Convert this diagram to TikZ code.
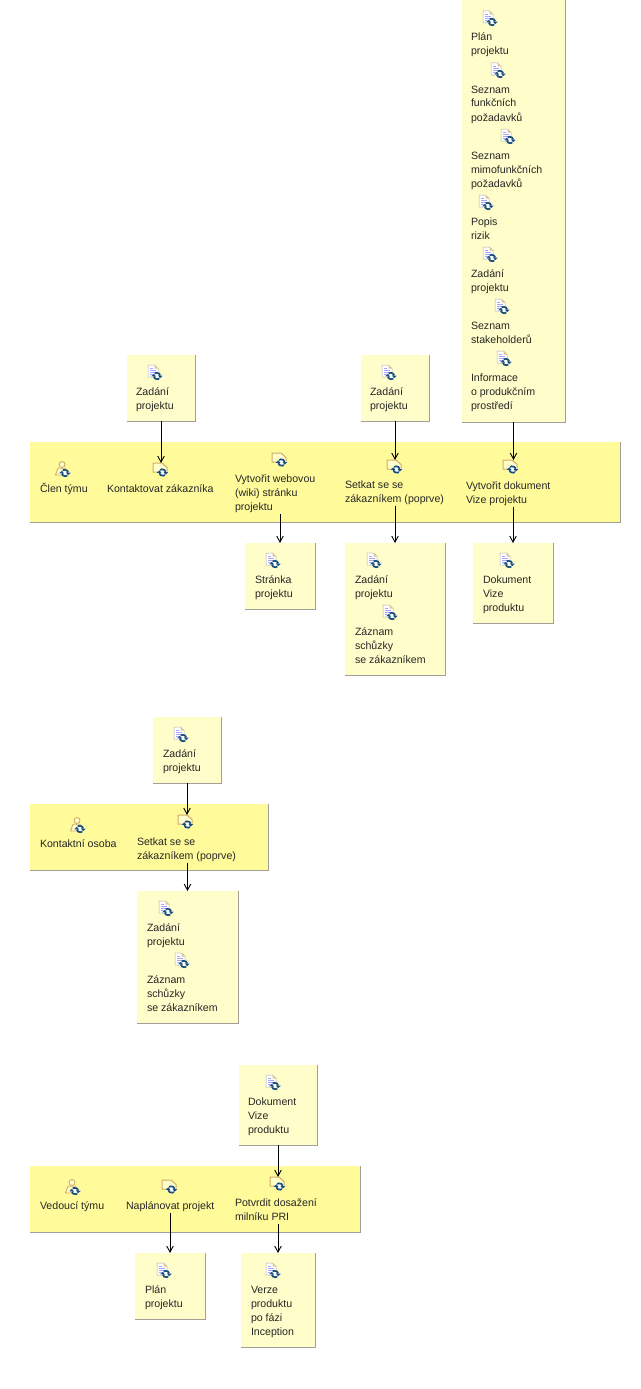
\documentclass[tikz,border=0pt]{standalone}
\usepackage{fontspec}
\setmainfont{Liberation Sans}
\usetikzlibrary{arrows.meta}
\definecolor{boxfill}{HTML}{FFFDCA}
\definecolor{bandfill}{HTML}{FFFB9B}
\definecolor{edgegrey}{HTML}{A0A098}
\definecolor{tan}{HTML}{D0AC68}
\definecolor{badge}{HTML}{1A4F7A}
\tikzset{
  x=1pt,y=-1pt,
  boxshape/.style={fill=boxfill,draw=none,inner sep=0pt,outer sep=0pt},
  bandshape/.style={fill=bandfill,draw=none,inner sep=0pt,outer sep=0pt},
  edgeline/.style={draw=edgegrey,line width=1pt},
  txt/.style={anchor=north west,inner sep=0pt,outer sep=0pt,align=left,font=\fontsize{10.6}{14}\selectfont,text=black!85},
  arr/.style={-{Straight Barb[length=6pt,width=6.5pt]},line width=0.9pt,black},
  iconspot/.style={inner sep=0pt,outer sep=0pt,minimum width=14pt,minimum height=14pt}
}
% name, x1, y1, x2, y2, style
\newcommand{\bx}[6]{%
  \path ({(#2+#4)/2},{(#3+#5)/2}) node[#6,minimum width={(#4-#2)*1pt},minimum height={(#5-#3)*1pt}] (#1) {};
  \draw[edgeline] (#1.north east) -- (#1.south east) -- (#1.south west);
}
\newcommand{\tx}[4]{\node[txt] (#1) at (#2,{#3-9.8}) {\strut #4\strut};}
\newcommand{\bdg}[2]{%
  \begin{scope}[shift={(#1,#2)}]
    \fill[white] (-6,0) -- (0,-4.5) -- (6,0) -- (0,4.5) -- cycle;
    \draw[badge,line width=1.7pt] (-3.2,0.6) arc[start angle=170,end angle=50,x radius=3.4,y radius=3.2];
    \draw[badge,line width=1.7pt] (3.2,-0.6) arc[start angle=-10,end angle=-130,x radius=3.4,y radius=3.2];
    \fill[badge] (-5.8,0.2) -- (-3,-2.2) -- (-1,0.6) -- cycle;
    \fill[badge] (5.8,-0.2) -- (3,2.2) -- (1,-0.6) -- cycle;
  \end{scope}}
\newcommand{\docicon}[3]{% name, centre x, centre y
  \node[iconspot] (#1) at (#2,#3) {};
  \begin{scope}[shift={(#2,#3)}]
    \fill[white,draw=gray!60,line width=0.5pt] (-6,-8) -- (0.5,-8) -- (4,-4.5) -- (4,4) -- (-6,4) -- cycle;
    \fill[tan!70] (0.5,-8) -- (0.5,-4.5) -- (4,-4.5) -- cycle;
    \draw[blue!35,line width=0.7pt] (-4,-5) -- (-1,-5) (-4,-3) -- (2,-3) (-4,-1) -- (2,-1) (-4,1) -- (0,1);
  \end{scope}
  \bdg{#2+3}{#3+3}}
\newcommand{\taskicon}[3]{%
  \node[iconspot] (#1) at (#2,#3) {};
  \begin{scope}[shift={(#2,#3)}]
    \fill[boxfill,draw=tan,line width=1pt] (-8,-7) -- (1,-7) -- (6,-2.5) -- (6,2) -- (-8,2) -- cycle;
  \end{scope}
  \bdg{#2+1.5}{#3+2.5}}
\newcommand{\roleicon}[3]{%
  \node[iconspot] (#1) at (#2,#3) {};
  \begin{scope}[shift={(#2,#3)}]
    \fill[boxfill,draw=tan,line width=0.9pt] (-1,-4.5) circle (3);
    \fill[boxfill,draw=tan,line width=0.9pt] (-7.5,6) -- (-5,-0.8) -- (2.5,-0.8) -- (4,6) -- cycle;
  \end{scope}
  \bdg{#2+2}{#3+4}}
\begin{document}
\begin{tikzpicture}
\useasboundingbox (0,0) rectangle (640,1389);
\fill[white] (0,0) rectangle (640,1389);

% bands
\bx{bandA}{30}{442}{620}{522}{bandshape}
\bx{bandB}{30}{804}{268}{870}{bandshape}
\bx{bandC}{30}{1166}{360}{1232}{bandshape}

% first group: inputs
\bx{bigIn}{462}{0}{565}{422}{boxshape}
\bx{inA}{127}{355}{195}{421}{boxshape}
\bx{inB}{361}{355}{429}{421}{boxshape}
\docicon{d1}{489}{19}
\tx{t1}{471}{41}{Plán\\projektu}
\docicon{d2}{497}{71}
\tx{t2}{471}{93}{Seznam\\funkčních\\požadavků}
\docicon{d3}{507}{137}
\tx{t3}{471}{159}{Seznam\\mimofunkčních\\požadavků}
\docicon{d4}{485}{203}
\tx{t4}{471}{225}{Popis\\rizik}
\docicon{d5}{489}{255}
\tx{t5}{471}{277}{Zadání\\projektu}
\docicon{d6}{501}{307}
\tx{t6}{471}{329}{Seznam\\stakeholderů}
\docicon{d7}{503}{359}
\tx{t7}{471}{381}{Informace\\o produkčním\\prostředí}
\docicon{d8}{154}{373}
\tx{t8}{136}{395}{Zadání\\projektu}
\docicon{d9}{388}{373}
\tx{t9}{370}{395}{Zadání\\projektu}

% first group: lane
\roleicon{r1}{63}{469}
\tx{rt1}{40}{492}{Člen týmu}
\taskicon{k1}{161}{470}
\tx{kt1}{107}{492}{Kontaktovat zákazníka}
\taskicon{k2}{280}{460}
\tx{kt2}{235}{482}{Vytvořit webovou\\(wiki) stránku\\projektu}
\taskicon{k3}{395}{467}
\tx{kt3}{345}{488}{Setkat se se\\zákazníkem (poprve)}
\taskicon{k4}{511}{467}
\tx{kt4}{466}{489}{Vytvořit dokument\\Vize projektu}

% first group: outputs
\bx{outA}{245}{543}{315}{609}{boxshape}
\bx{outB}{345}{543}{445}{675}{boxshape}
\bx{outC}{473}{543}{553}{623}{boxshape}
\docicon{d10}{272}{561}
\tx{t10}{255}{583}{Stránka\\projektu}
\docicon{d11}{373}{561}
\tx{t11}{355}{583}{Zadání\\projektu}
\docicon{d12}{389}{613}
\tx{t12}{355}{635}{Záznam\\schůzky\\se zákazníkem}
\docicon{d13}{506}{561}
\tx{t13}{483}{583}{Dokument\\Vize\\produktu}

\draw[arr] (inA.south) -- (inA.south |- k1.north);
\draw[arr] (inB.south) -- (inB.south |- k3.north);
\draw[arr] (bigIn.south) -- (bigIn.south |- k4.north);
\draw[arr] (kt2.south -| outA.north) -- (outA.north);
\draw[arr] (kt3.south -| outB.north) -- (outB.north);
\draw[arr] (kt4.south -| outC.north) -- (outC.north);

% second group
\bx{inC}{153}{717}{221}{783}{boxshape}
\docicon{d14}{180}{735}
\tx{t14}{163}{757}{Zadání\\projektu}
\roleicon{r2}{78}{825}
\tx{rt2}{40}{847}{Kontaktní osoba}
\taskicon{k5}{186}{822}
\tx{kt5}{137}{845}{Setkat se se\\zákazníkem (poprve)}
\bx{outD}{137}{891}{238}{1023}{boxshape}
\docicon{d15}{165}{909}
\tx{t15}{147}{931}{Zadání\\projektu}
\docicon{d16}{181}{961}
\tx{t16}{147}{983}{Záznam\\schůzky\\se zákazníkem}
\draw[arr] (inC.south) -- (inC.south |- k5.north);
\draw[arr] (kt5.south -| outD.north) -- (outD.north);

% third group
\bx{inD}{239}{1065}{317}{1145}{boxshape}
\docicon{d17}{272}{1083}
\tx{t17}{248}{1105}{Dokument\\Vize\\produktu}
\roleicon{r3}{73}{1187}
\tx{rt3}{40}{1209}{Vedoucí týmu}
\taskicon{k6}{170}{1187}
\tx{kt6}{126}{1209}{Naplánovat projekt}
\taskicon{k7}{278}{1184}
\tx{kt7}{235}{1206}{Potvrdit dosažení\\milníku PRI}
\bx{outE}{135}{1253}{205}{1319}{boxshape}
\docicon{d18}{163}{1271}
\tx{t18}{145}{1293}{Plán\\projektu}
\bx{outF}{241}{1253}{315}{1347}{boxshape}
\docicon{d19}{272}{1271}
\tx{t19}{251}{1293}{Verze\\produktu\\po fázi\\Inception}
\draw[arr] (inD.south) -- (inD.south |- k7.north);
\draw[arr] (kt6.south -| outE.north) -- (outE.north);
\draw[arr] (kt7.south -| outF.north) -- (outF.north);
\end{tikzpicture}
\end{document}
